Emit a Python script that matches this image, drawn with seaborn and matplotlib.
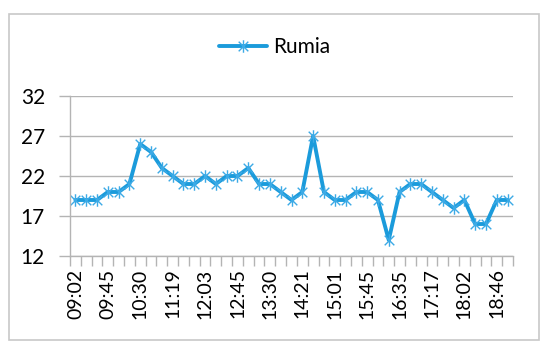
import matplotlib.pyplot as plt
import matplotlib.patches as mpatches
from matplotlib.path import Path
import seaborn as sns
import pandas as pd
import numpy as np

# Data
rumia = [19, 19, 19, 20, 20, 21, 26, 25, 23, 22,
         21, 21, 22, 21, 22, 22, 23, 21, 21, 20,
         19, 20, 27, 20, 19, 19, 20, 20, 19, 14,
         20, 21, 21, 20, 19, 18, 19, 16, 16, 19,
         19]
time_labels = ["09:02", "09:45", "10:30", "11:19", "12:03", "12:45", "13:30",
               "14:21", "15:01", "15:45", "16:35", "17:17", "18:02", "18:46"]
y_ticks = [12, 17, 22, 27, 32]

df = pd.DataFrame({"idx": np.arange(len(rumia)), "Rumia": rumia})

sns.set_style("white")
plt.rcParams['font.family'] = ['Lato', 'DejaVu Sans']

# Excel-like star marker: an X with a vertical bar through it
star = Path([(-1, -1), (1, 1), (-1, 1), (1, -1), (0, -1.3), (0, 1.3)],
            [Path.MOVETO, Path.LINETO, Path.MOVETO, Path.LINETO, Path.MOVETO, Path.LINETO])

line_col = '#1B9BDB'
grid_col = '#B4B4B4'

fig = plt.figure(figsize = (5.5, 3.5), dpi = 100)
ax = fig.add_axes([70 / 550, 1 - 256 / 350, 443 / 550, 160 / 350])

sns.lineplot(data = df, x = "idx", y = "Rumia", ax = ax, color = line_col, linewidth = 2.8,
             marker = star, markersize = 9, markeredgewidth = 1.0,
             markeredgecolor = '#3CAAE6', markerfacecolor = 'none', label = "Rumia")

ax.set_xlim(-0.5, len(rumia) - 0.5)
ax.set_ylim(12, 32)
ax.set_yticks(y_ticks)
ax.set_xticks(np.arange(0, len(rumia), 3))
ax.set_xticklabels(time_labels, rotation = 90)
ax.set_xticks(np.arange(-0.5, len(rumia), 1), minor = True)
ax.set_xlabel("")
ax.set_ylabel("")

ax.grid(axis = 'y', color = grid_col, linewidth = 1.0)
ax.tick_params(axis = 'y', which = 'both', length = 8, color = grid_col, width = 1.0,
               labelsize = 15, pad = 10, left = True, labelcolor = 'black')
ax.tick_params(axis = 'x', which = 'major', length = 0, labelsize = 14, pad = 9, labelcolor = 'black')
ax.tick_params(axis = 'x', which = 'minor', length = 7, color = grid_col, width = 1.0, bottom = True)
ax.set_axisbelow(True)

for s in ['top', 'right']:
    ax.spines[s].set_visible(False)
for s in ['left', 'bottom']:
    ax.spines[s].set_color(grid_col)
    ax.spines[s].set_linewidth(1.0)

leg = ax.legend(loc = 'center', bbox_to_anchor = (0.5, 1 - 47 / 350), bbox_transform = fig.transFigure,
                frameon = False, fontsize = 15, handlelength = 2.3, handletextpad = 0.3)
for t in leg.get_texts():
    t.set_color('black')

# Outer chart border
fig.patches.append(mpatches.Rectangle((9 / 550, 1 - 340 / 350), 530 / 550, 326 / 350,
                                      transform = fig.transFigure, fill = False,
                                      edgecolor = '#C8C8C8', linewidth = 1.2))

fig.savefig("out.png", dpi = 100)
